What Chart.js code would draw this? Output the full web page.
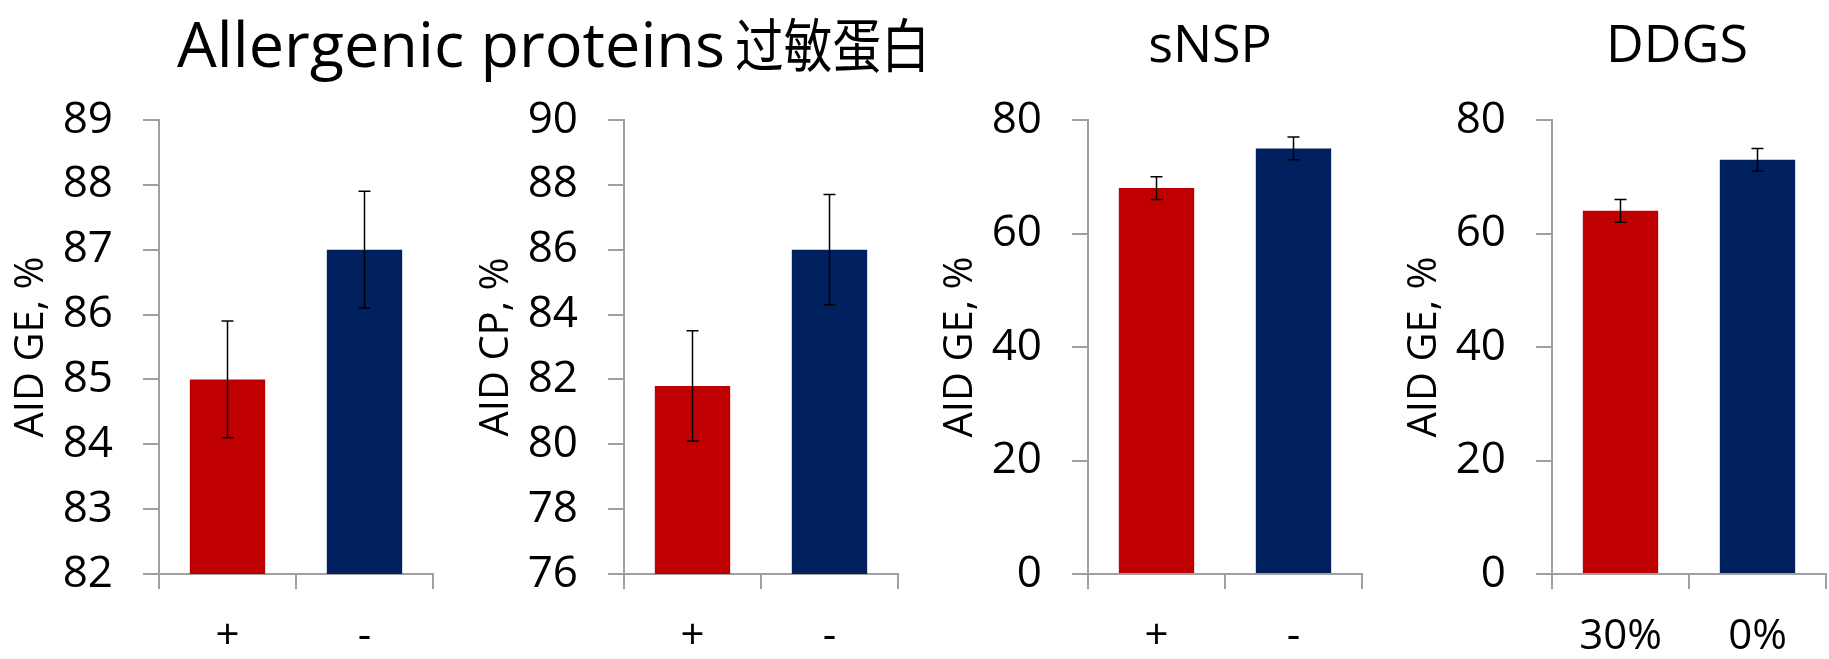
<!DOCTYPE html>
<html>
<head>
<meta charset="utf-8">
<script src="https://cdn.jsdelivr.net/npm/chart.js@4.4.1/dist/chart.umd.min.js"></script>
<style>
  html, body { margin: 0; padding: 0; background: #fff; }
  #wrap { position: relative; width: 1829px; height: 659px; overflow: hidden; background: #fff; }
  canvas { position: absolute; top: 0; }
  .title { position: absolute; color: #000; white-space: nowrap; font-family: "Open Sans"; }
  .cjk { display: inline-block; margin-left: -6px; font-family: "Noto Sans CJK SC"; font-size: 58px; transform: scaleX(0.84); transform-origin: left bottom; }
</style>
</head>
<body>
<div id="wrap">
  <div class="title" style="left:177px; top:2px; font-size:63px; line-height:80px;"><span>Allergenic proteins</span> <span class="cjk">过敏蛋白</span></div>
  <div class="title" style="left:1210px; top:16px; font-size:52px; line-height:52px; transform:translateX(-50%);">sNSP</div>
  <div class="title" style="left:1677px; top:16px; font-size:52px; line-height:52px; transform:translateX(-50%);">DDGS</div>
  <canvas id="c1" width="438" height="659" style="left:-1px"></canvas>
  <canvas id="c2" width="438" height="659" style="left:464px"></canvas>
  <canvas id="c3" width="438" height="659" style="left:928px"></canvas>
  <canvas id="c4" width="438" height="659" style="left:1392px"></canvas>
</div>
<script>
// ------------------ DATA ------------------
const allergenLabels = ["+", "-"];
const snspLabels = ["+", "-"];
const ddgsLabels = ["30%", "0%"];

// AID GE, % (allergenic proteins)
const allergenGE = [85.0, 87.0];
const allergenGEErr = [0.9, 0.9];

// AID CP, % (allergenic proteins)
const allergenCP = [81.8, 86.0];
const allergenCPErr = [1.7, 1.7];

// AID GE, % (sNSP)
const snspGE = [68, 75];
const snspGEErr = [2, 2];

// AID GE, % (DDGS)
const ddgsGE = [64, 73];
const ddgsGEErr = [2, 2];

const barColors = ["#C00000", "#002060"];
const axisColor = "#a0a0a0";
const fontFamily = "'Open Sans'";

// ------------------ ERROR BARS ------------------
const errorBarPlugin = {
    id: "errorBars",
    afterDatasetsDraw(chart) {
        const ctx = chart.ctx;
        const yScale = chart.scales.y;
        chart.data.datasets.forEach((ds, i) => {
            const meta = chart.getDatasetMeta(i);
            meta.data.forEach((bar, j) => {
                const v = ds.data[j];
                const e = ds.errors[j];
                const top = yScale.getPixelForValue(v + e);
                const bot = yScale.getPixelForValue(v - e);
                ctx.save();
                ctx.strokeStyle = "#000";
                ctx.lineWidth = 1.5;
                ctx.beginPath();
                ctx.moveTo(bar.x, top); ctx.lineTo(bar.x, bot);
                ctx.moveTo(bar.x - 6, top); ctx.lineTo(bar.x + 6, top);
                ctx.moveTo(bar.x - 6, bot); ctx.lineTo(bar.x + 6, bot);
                ctx.stroke();
                ctx.restore();
            });
        });
    }
};

// ------------------ CHART ------------------
function makeChart(id, labels, values, errors, yMin, yMax, yStep, yTitle) {
    const ctx = document.getElementById(id).getContext("2d");
    return new Chart(ctx, {
        type: "bar",
        data: {
            labels,
            datasets: [{
                data: values,
                errors: errors,
                backgroundColor: barColors,
                borderWidth: 0,
                barPercentage: 0.55,
                categoryPercentage: 1.0
            }]
        },
        plugins: [errorBarPlugin],
        options: {
            responsive: false,
            animation: false,
            layout: { padding: { top: 120, right: 4, left: 0, bottom: 0 } },
            plugins: {
                legend: { display: false },
                tooltip: { enabled: false }
            },
            scales: {
                x: {
                    grid: { drawOnChartArea: false, tickLength: 15, color: axisColor, lineWidth: 2, offset: true },
                    border: { color: axisColor, width: 2 },
                    ticks: { color: "#000", font: { family: fontFamily, size: 42 }, padding: 23, maxRotation: 0 },
                    afterFit: s => { s.height = 85; }
                },
                y: {
                    min: yMin,
                    max: yMax,
                    beginAtZero: false,
                    grid: { drawOnChartArea: false, tickLength: 16, color: axisColor, lineWidth: 2 },
                    border: { color: axisColor, width: 2 },
                    ticks: { stepSize: yStep, color: "#000", font: { family: fontFamily, size: 44 }, padding: 30 },
                    title: {
                        display: true,
                        text: yTitle,
                        color: "#000",
                        font: { family: fontFamily, size: 40, lineHeight: 1.2 },
                        padding: { top: 9, bottom: 0 }
                    },
                    afterFit: s => { s.width = 160; }
                }
            }
        }
    });
}

makeChart("c1", allergenLabels, allergenGE, allergenGEErr, 82, 89, 1, "AID GE, %");
makeChart("c2", allergenLabels, allergenCP, allergenCPErr, 76, 90, 2, "AID CP, %");
makeChart("c3", snspLabels, snspGE, snspGEErr, 0, 80, 20, "AID GE, %");
makeChart("c4", ddgsLabels, ddgsGE, ddgsGEErr, 0, 80, 20, "AID GE, %");
</script>
</body>
</html>
